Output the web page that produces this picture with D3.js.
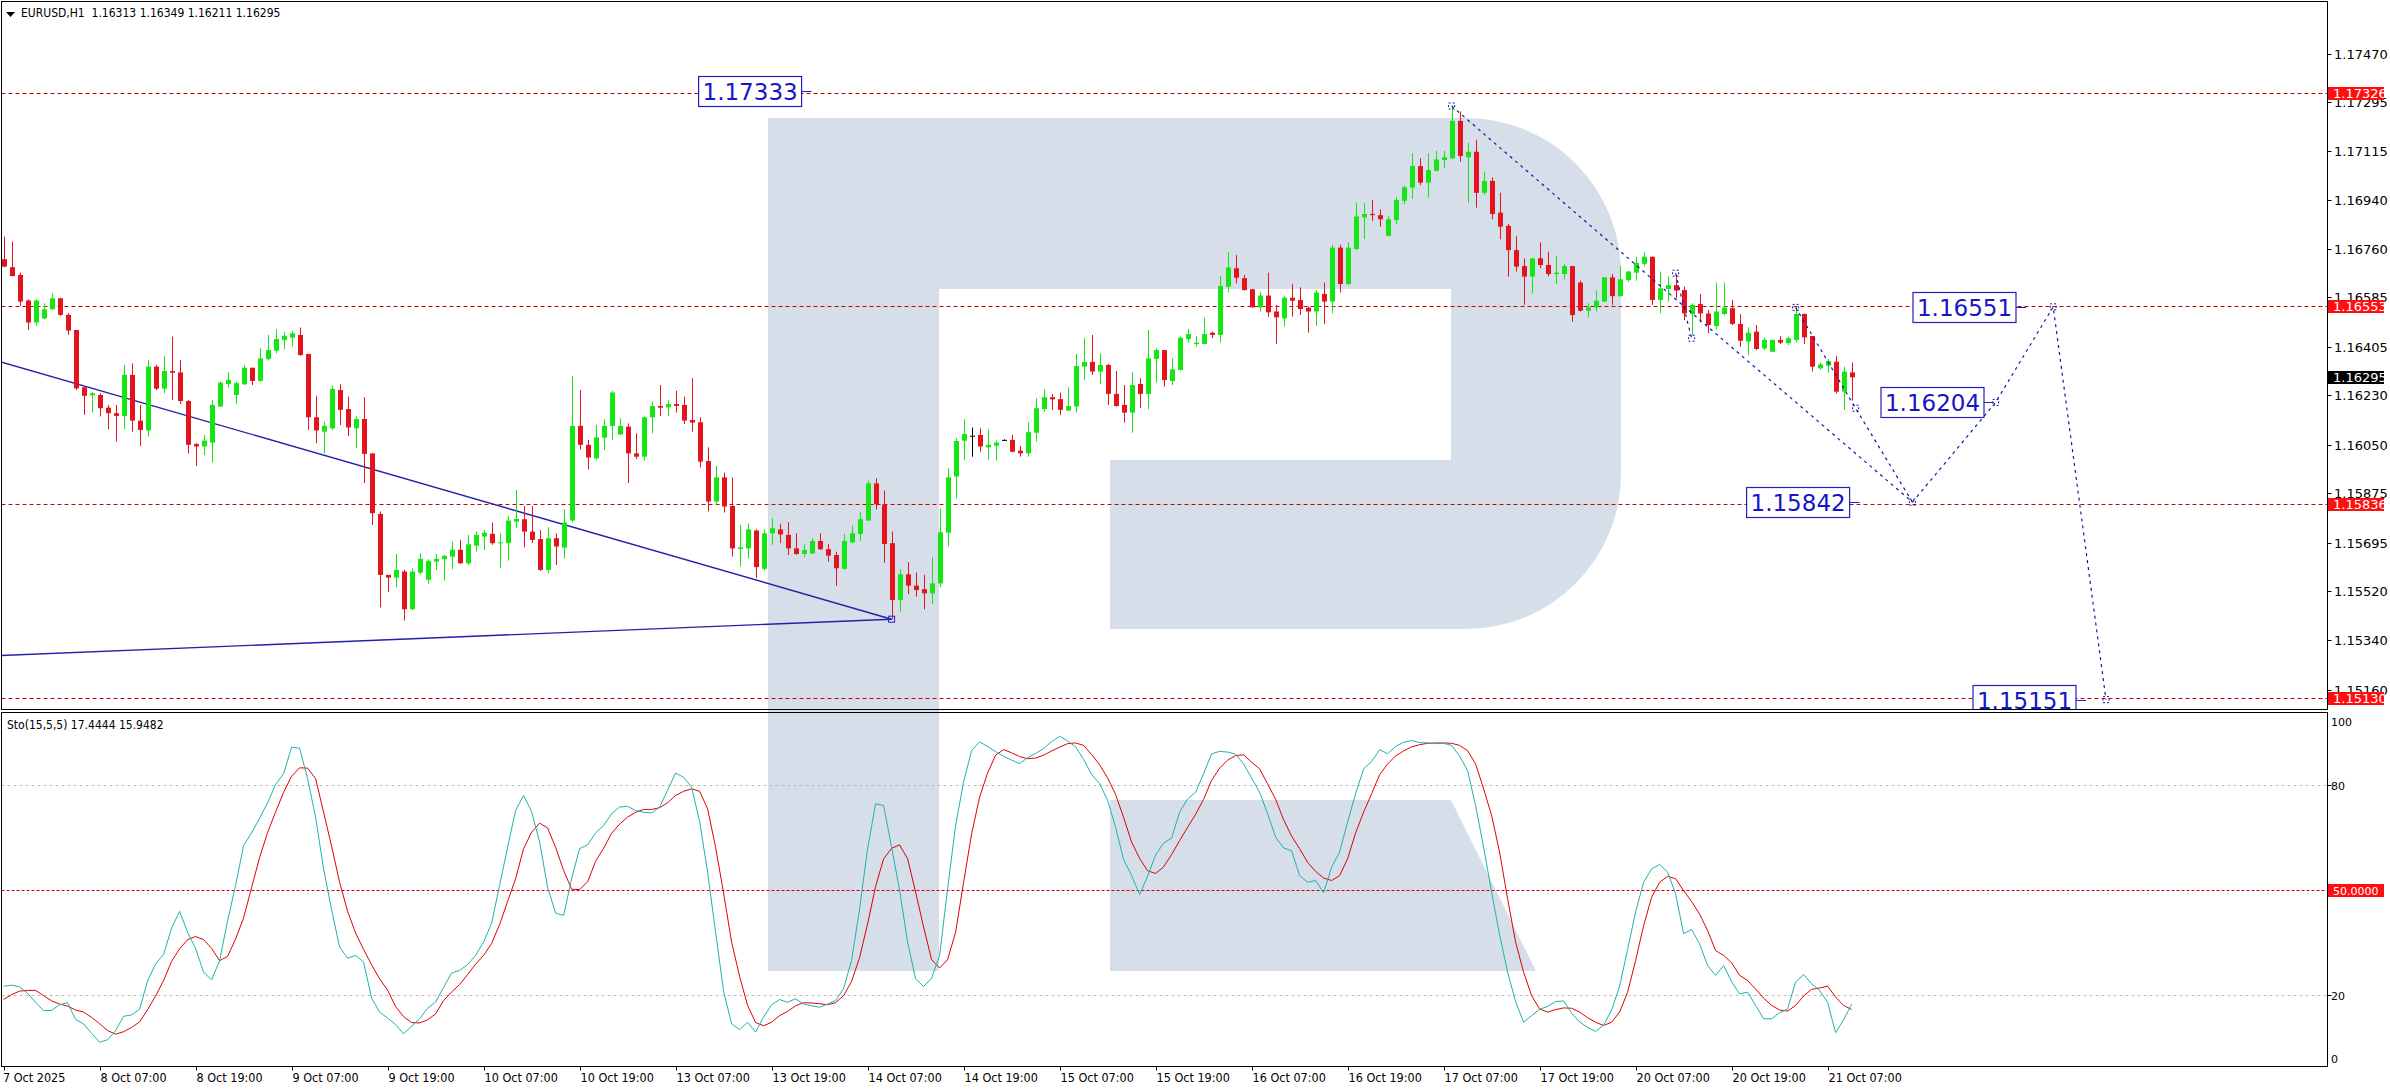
<!DOCTYPE html>
<html><head><meta charset="utf-8">
<script src="https://cdn.jsdelivr.net/npm/d3@7"></script>
<style>
html,body{margin:0;padding:0;background:#fff;overflow:hidden;}
svg{display:block;}
</style></head><body>
<svg id="c" width="2390" height="1090"></svg>
<script>
// ---------------- DATA ----------------
const symbolTitle = "EURUSD,H1";
const headerOHLC = ["1.16313","1.16349","1.16211","1.16295"];
const stochTitle = "Sto(15,5,5) 17.4444 15.9482";

const opens = [1.16724,1.16695,1.16667,1.16574,1.16494,1.16509,1.16542,1.16582,1.16522,1.16467,
1.16259,1.16230,1.16231,1.16185,1.16165,1.16155,1.16304,1.16138,1.16102,1.16334,
1.16254,1.16318,1.16313,1.16209,1.16053,1.16044,1.16058,1.16189,1.16271,1.16231,
1.16270,1.16330,1.16282,1.16361,1.16392,1.16431,1.16439,1.16449,1.16380,1.16150,
1.16098,1.16110,1.16249,1.16180,1.16110,1.16144,1.16019,1.15799,1.15578,1.15568,
1.15590,1.15453,1.15586,1.15560,1.15626,1.15635,1.15644,1.15669,1.15620,1.15684,
1.15717,1.15727,1.15693,1.15693,1.15771,1.15780,1.15735,1.15708,1.15596,1.15711,
1.15677,1.15775,1.16119,1.16050,1.16001,1.16076,1.16119,1.16088,1.16116,1.16019,
1.16007,1.16150,1.16191,1.16186,1.16198,1.16195,1.16140,1.16132,1.15991,1.15844,
1.15932,1.15828,1.15672,1.15674,1.15739,1.15600,1.15729,1.15743,1.15723,1.15674,
1.15654,1.15656,1.15701,1.15671,1.15650,1.15600,1.15696,1.15726,1.15775,1.15910,
1.15834,1.15693,1.15487,1.15580,1.15539,1.15526,1.15511,1.15547,1.15731,1.15935,
1.16065,1.16083,1.16086,1.16041,1.16047,1.16068,1.16068,1.16029,1.16019,1.16094,
1.16180,1.16223,1.16216,1.16174,1.16189,1.16334,1.16351,1.16316,1.16340,1.16235,
1.16195,1.16167,1.16271,1.16235,1.16362,1.16394,1.16282,1.16322,1.16434,1.16416,
1.16416,1.16457,1.16449,1.16624,1.16691,1.16655,1.16615,1.16549,1.16592,1.16534,
1.16509,1.16584,1.16576,1.16548,1.16534,1.16598,1.16570,1.16766,1.16634,1.16761,
1.16876,1.16888,1.16884,1.16808,1.16866,1.16936,1.16984,1.17062,1.17002,1.17045,
1.17084,1.17090,1.17226,1.17094,1.17114,1.16965,1.17008,1.16893,1.16845,1.16757,
1.16699,1.16661,1.16727,1.16703,1.16670,1.16670,1.16699,1.16639,1.16537,1.16549,
1.16570,1.16658,1.16590,1.16648,1.16675,1.16707,1.16733,1.16576,1.16616,1.16630,
1.16612,1.16525,1.16561,1.16527,1.16481,1.16525,1.16546,1.16489,1.16425,1.16461,
1.16400,1.16388,1.16431,1.16419,1.16431,1.16525,1.16445,1.16328,1.16337,1.16352,
1.16243,1.16313];
const highs = [1.16806,1.16788,1.16675,1.16578,1.16578,1.16564,1.16600,1.16584,1.16528,1.16467,
1.16261,1.16243,1.16237,1.16195,1.16195,1.16340,1.16346,1.16195,1.16358,1.16340,
1.16373,1.16443,1.16358,1.16213,1.16056,1.16086,1.16213,1.16280,1.16313,1.16280,
1.16340,1.16330,1.16401,1.16449,1.16470,1.16461,1.16463,1.16476,1.16380,1.16228,
1.16134,1.16265,1.16270,1.16225,1.16153,1.16223,1.16019,1.15808,1.15578,1.15654,
1.15596,1.15602,1.15656,1.15635,1.15654,1.15650,1.15699,1.15705,1.15723,1.15735,
1.15741,1.15768,1.15729,1.15792,1.15886,1.15828,1.15828,1.15741,1.15751,1.15729,
1.15816,1.16300,1.16249,1.16068,1.16122,1.16143,1.16246,1.16146,1.16128,1.16092,
1.16153,1.16207,1.16267,1.16213,1.16246,1.16225,1.16292,1.16150,1.16041,1.15973,
1.15949,1.15932,1.15759,1.15765,1.15743,1.15743,1.15783,1.15763,1.15769,1.15729,
1.15689,1.15711,1.15729,1.15690,1.15662,1.15726,1.15756,1.15807,1.15920,1.15929,
1.15884,1.15735,1.15598,1.15624,1.15587,1.15578,1.15642,1.15820,1.15965,1.16074,
1.16143,1.16113,1.16110,1.16106,1.16065,1.16070,1.16086,1.16046,1.16132,1.16219,
1.16252,1.16235,1.16240,1.16259,1.16380,1.16437,1.16449,1.16382,1.16344,1.16318,
1.16267,1.16313,1.16292,1.16467,1.16401,1.16394,1.16364,1.16443,1.16470,1.16445,
1.16512,1.16461,1.16663,1.16749,1.16739,1.16667,1.16615,1.16606,1.16675,1.16558,
1.16590,1.16634,1.16622,1.16552,1.16612,1.16639,1.16776,1.16776,1.16785,1.16929,
1.16927,1.16939,1.16905,1.16881,1.16949,1.16990,1.17108,1.17090,1.17108,1.17118,
1.17118,1.17275,1.17260,1.17147,1.17157,1.17042,1.17021,1.16965,1.16852,1.16808,
1.16727,1.16727,1.16785,1.16751,1.16736,1.16707,1.16699,1.16646,1.16564,1.16610,
1.16658,1.16670,1.16699,1.16682,1.16733,1.16749,1.16733,1.16679,1.16661,1.16667,
1.16624,1.16564,1.16598,1.16540,1.16639,1.16639,1.16576,1.16525,1.16477,1.16485,
1.16440,1.16431,1.16445,1.16443,1.16549,1.16527,1.16445,1.16349,1.16361,1.16373,
1.16334,1.16349];
const lows = [1.16695,1.16661,1.16554,1.16467,1.16482,1.16506,1.16540,1.16518,1.16449,1.16249,
1.16159,1.16167,1.16153,1.16107,1.16062,1.16107,1.16098,1.16046,1.16080,1.16249,
1.16237,1.16213,1.16198,1.16019,1.15973,1.16013,1.15986,1.16189,1.16258,1.16198,
1.16267,1.16267,1.16280,1.16356,1.16382,1.16397,1.16407,1.16373,1.16104,1.16056,
1.16019,1.16104,1.16122,1.16082,1.16038,1.15911,1.15759,1.15460,1.15515,1.15533,
1.15412,1.15451,1.15580,1.15547,1.15596,1.15557,1.15598,1.15618,1.15614,1.15662,
1.15668,1.15687,1.15602,1.15630,1.15747,1.15678,1.15693,1.15592,1.15584,1.15614,
1.15638,1.15768,1.16034,1.15961,1.15995,1.16031,1.16068,1.16086,1.15911,1.15998,
1.15993,1.16092,1.16155,1.16155,1.16167,1.16126,1.16098,1.15968,1.15808,1.15832,
1.15804,1.15644,1.15608,1.15638,1.15566,1.15593,1.15687,1.15693,1.15650,1.15650,
1.15642,1.15654,1.15668,1.15626,1.15538,1.15596,1.15693,1.15702,1.15775,1.15816,
1.15622,1.15417,1.15445,1.15508,1.15499,1.15453,1.15472,1.15533,1.15681,1.15856,
1.15994,1.16007,1.16025,1.15995,1.15993,1.16065,1.16023,1.16007,1.16007,1.16062,
1.16171,1.16177,1.16158,1.16174,1.16167,1.16285,1.16304,1.16271,1.16195,1.16189,
1.16131,1.16094,1.16183,1.16179,1.16276,1.16261,1.16267,1.16319,1.16421,1.16407,
1.16416,1.16437,1.16421,1.16603,1.16636,1.16610,1.16549,1.16533,1.16515,1.16416,
1.16479,1.16515,1.16521,1.16457,1.16482,1.16489,1.16527,1.16603,1.16630,1.16757,
1.16797,1.16863,1.16842,1.16808,1.16852,1.16924,1.16943,1.16993,1.16947,1.17042,
1.17054,1.17087,1.17078,1.16929,1.16911,1.16957,1.16869,1.16796,1.16660,1.16679,
1.16558,1.16600,1.16691,1.16661,1.16634,1.16651,1.16497,1.16534,1.16513,1.16534,
1.16570,1.16558,1.16588,1.16642,1.16646,1.16698,1.16558,1.16527,1.16570,1.16582,
1.16503,1.16449,1.16494,1.16455,1.16469,1.16521,1.16485,1.16406,1.16376,1.16394,
1.16394,1.16388,1.16416,1.16412,1.16421,1.16416,1.16316,1.16322,1.16312,1.16237,
1.16177,1.16211];
const closes = [1.16697,1.16663,1.16570,1.16494,1.16574,1.16542,1.16582,1.16522,1.16465,1.16255,
1.16228,1.16237,1.16183,1.16165,1.16155,1.16304,1.16138,1.16104,1.16334,1.16254,
1.16318,1.16312,1.16209,1.16050,1.16044,1.16065,1.16195,1.16276,1.16286,1.16274,
1.16330,1.16282,1.16364,1.16394,1.16434,1.16446,1.16455,1.16376,1.16150,1.16102,
1.16119,1.16253,1.16177,1.16113,1.16144,1.16017,1.15802,1.15578,1.15568,1.15596,
1.15453,1.15590,1.15636,1.15629,1.15636,1.15647,1.15669,1.15620,1.15689,1.15723,
1.15731,1.15693,1.15696,1.15775,1.15781,1.15735,1.15705,1.15596,1.15711,1.15681,
1.15768,1.16119,1.16050,1.16004,1.16077,1.16119,1.16240,1.16119,1.16019,1.16007,
1.16150,1.16191,1.16185,1.16198,1.16191,1.16138,1.16131,1.15989,1.15844,1.15932,
1.15826,1.15674,1.15678,1.15743,1.15606,1.15729,1.15747,1.15725,1.15674,1.15654,
1.15668,1.15701,1.15671,1.15648,1.15602,1.15701,1.15729,1.15780,1.15910,1.15834,
1.15690,1.15487,1.15580,1.15539,1.15523,1.15511,1.15547,1.15733,1.15932,1.16064,
1.16089,1.16083,1.16044,1.16050,1.16058,1.16068,1.16025,1.16019,1.16096,1.16183,
1.16223,1.16215,1.16177,1.16191,1.16336,1.16351,1.16316,1.16340,1.16235,1.16191,
1.16167,1.16267,1.16235,1.16364,1.16394,1.16285,1.16324,1.16439,1.16452,1.16421,
1.16452,1.16449,1.16627,1.16694,1.16657,1.16612,1.16549,1.16592,1.16531,1.16513,
1.16584,1.16573,1.16543,1.16534,1.16603,1.16570,1.16766,1.16634,1.16766,1.16879,
1.16888,1.16884,1.16869,1.16869,1.16939,1.16985,1.17062,1.17002,1.17048,1.17086,
1.17094,1.17226,1.17099,1.17114,1.16965,1.17008,1.16888,1.16842,1.16757,1.16697,
1.16661,1.16727,1.16703,1.16670,1.16675,1.16699,1.16521,1.16537,1.16549,1.16573,
1.16658,1.16590,1.16651,1.16679,1.16711,1.16733,1.16576,1.16618,1.16630,1.16610,
1.16527,1.16558,1.16527,1.16485,1.16534,1.16548,1.16489,1.16428,1.16457,1.16398,
1.16431,1.16431,1.16421,1.16437,1.16525,1.16440,1.16334,1.16342,1.16354,1.16243,
1.16316,1.16295];

const stochK = [22.6,22.9,22.4,20.6,18.0,15.6,15.7,17.3,17.9,13.1,
11.8,9.1,6.6,7.3,9.9,14.0,14.4,16.0,24.1,29.0,
31.7,39.2,44.0,38.0,33.4,26.6,24.4,29.9,41.3,51.4,
62.8,66.4,70.6,75.0,80.2,83.3,90.9,90.6,81.9,70.9,
56.1,44.5,33.8,30.6,31.4,29.5,19.2,15.2,13.5,11.6,
9.0,11.2,13.3,16.3,18.1,22.3,26.4,27.1,28.8,31.4,
35.2,40.6,51.4,62.3,72.8,77.1,72.5,63.8,50.9,43.5,
42.8,53.3,61.9,63.0,66.4,68.5,71.9,73.8,74.0,72.8,
72.3,72.1,73.8,78.6,83.5,82.3,79.5,69.7,55.2,38.0,
21.1,11.9,10.2,12.3,9.5,13.8,17.3,18.8,18.0,19.0,
17.5,17.0,16.6,17.5,18.5,21.9,30.0,44.7,61.9,74.7,
74.2,62.3,50.0,35.2,24.7,22.5,24.9,31.4,50.4,68.5,
81.0,89.9,92.4,91.1,89.6,88.3,87.2,86.2,87.9,89.1,
90.5,92.5,94.0,92.7,91.0,87.4,83.1,80.5,75.7,68.0,
58.8,54.2,48.8,54.0,60.1,63.5,64.9,72.3,76.1,78.0,
83.3,89.0,89.7,89.5,88.9,86.1,82.1,78.0,71.9,65.2,
62.1,61.3,54.2,52.3,52.8,49.3,56.6,60.9,69.5,77.6,
84.7,86.8,90.2,89.0,91.1,92.3,92.8,92.2,92.1,91.9,
92.0,91.4,88.4,84.2,74.2,62.3,49.5,37.3,26.6,18.2,
12.3,14.2,16.0,16.8,18.2,18.4,14.9,12.4,10.8,9.7,
11.4,15.8,22.6,33.1,43.8,52.3,56.1,57.4,55.2,49.0,
37.6,38.8,34.7,28.5,25.7,28.5,23.9,20.4,20.9,17.1,
13.3,13.3,15.0,16.1,23.8,25.9,23.3,21.4,18.0,9.3,
13.0,17.4444];
const stochD = [18.8,20.2,21.2,21.4,21.4,19.9,18.4,17.5,16.9,15.8,
15.2,13.7,11.9,9.9,8.9,9.6,10.8,12.4,15.9,19.8,
24.2,29.7,33.3,35.9,36.8,35.9,33.4,29.9,31.1,36.1,
42.1,50.8,59.4,66.5,72.4,78.0,82.6,85.0,84.9,81.9,
72.3,62.6,52.3,44.0,37.8,33.1,28.7,24.7,21.5,16.8,
13.9,12.2,12.1,13.0,14.7,18.5,20.9,23.1,25.9,28.9,
31.4,34.8,40.2,46.8,53.3,61.9,66.6,69.2,67.8,62.3,
55.7,50.3,50.2,52.4,58.3,62.0,66.3,68.9,70.9,72.3,
73.1,73.1,73.6,75.0,77.1,78.3,79.0,78.3,73.3,62.3,
49.2,35.2,25.4,17.1,12.2,11.3,12.3,14.2,15.4,17.0,
17.9,17.8,17.6,17.3,17.9,19.9,24.0,30.8,40.4,51.1,
59.0,62.0,63.0,59.0,49.5,39.5,30.2,27.8,30.2,38.0,
52.3,66.1,76.6,83.5,88.6,90.2,89.3,88.2,87.6,87.8,
88.6,89.8,90.9,91.9,92.1,91.4,88.8,85.9,82.1,77.4,
70.8,63.8,59.1,55.6,54.8,56.7,60.2,64.2,68.0,71.7,
76.0,81.4,84.9,87.2,88.5,88.7,86.6,84.7,80.4,76.0,
70.2,65.5,61.9,58.0,55.4,53.5,52.8,54.2,59.0,66.4,
72.3,77.6,83.0,86.1,88.4,89.8,91.0,91.6,92.0,92.1,
92.1,92.0,91.4,89.9,86.1,79.0,71.4,60.9,47.6,35.2,
26.6,19.9,16.1,15.2,15.9,16.4,16.3,15.2,13.6,12.3,
11.4,12.3,15.2,20.9,29.9,39.9,48.0,52.3,54.0,53.3,
49.9,46.8,43.2,38.5,32.8,31.4,29.3,25.7,24.2,21.8,
19.2,17.1,15.8,15.5,17.1,19.8,21.7,22.1,22.6,19.5,
17.1,15.9482];

const firstTimeLabel = "7 Oct 2025";
const timeLabels = ["8 Oct 07:00","8 Oct 19:00","9 Oct 07:00","9 Oct 19:00","10 Oct 07:00","10 Oct 19:00",
"13 Oct 07:00","13 Oct 19:00","14 Oct 07:00","14 Oct 19:00","15 Oct 07:00","15 Oct 19:00",
"16 Oct 07:00","16 Oct 19:00","17 Oct 07:00","17 Oct 19:00","20 Oct 07:00","20 Oct 19:00","21 Oct 07:00"];
const timeLabelBars = [12,24,36,48,60,72,84,96,108,120,132,144,156,168,180,192,204,216,228];

const priceTicks = [1.17470,1.17295,1.17115,1.16940,1.16760,1.16585,1.16405,1.16230,1.16050,1.15875,1.15695,1.15520,1.15340,1.15160];
const levelPrices = [1.17326,1.16553,1.15836,1.15130];
const lastPrice = 1.16295;
const stochTicks = [100,80,20,0];
const stochGrid = [80,20];
const stochMid = 50;

// trend lines: [bar, price] pairs
const trendUpper = [[-0.45,1.16352],[111,1.15417]];
const trendLower = [[-0.45,1.15285],[111,1.15417]];
// forecast (dotted) paths
const fcPeakLine = [[181,1.17280],[210,1.16554]];
const fcZig = [[209,1.16673],[210,1.16554],[211,1.16437]];
const fcLong = [[210,1.16554],[238.6,1.15842]];
const fcShort = [[224,1.16549],[231.5,1.16183],[238.6,1.15842]];
const fcFuture = [[238.6,1.15842],[249,1.16204],[256.2,1.16551],[262.8,1.15125]];
const fcMarkers = [[181,1.17280],[209,1.16673],[211,1.16437],[224,1.16549],[231.5,1.16183],[238.6,1.15842],[249,1.16204],[256.2,1.16551],[262.8,1.15125]];
const priceBoxes = [
  {text:"1.17333", bar:101, price:1.17333},
  {text:"1.16551", bar:252.8, price:1.16551},
  {text:"1.16204", bar:248.8, price:1.16204},
  {text:"1.15842", bar:232.0, price:1.15842},
  {text:"1.15151", bar:260.3, price:1.15125}
];

// ---------------- LAYOUT ----------------
const svg = d3.select("#c");
const PX0 = 1.5, PX1 = 2327.5;
const MY0 = 1.5, MY1 = 709.5;
const SY0 = 712.5, SY1 = 1066.5;

const x = d3.scaleLinear().domain([0, 231]).range([3.6, 1851.6]);
const y = d3.scaleLinear().domain([1.15160, 1.17470]).range([690.0, 53.7]);
const ys = d3.scaleLinear().domain([0, 100]).range([1065.3, 715.3]);

const BULL = "#14e614", BEAR = "#e3141d", DOJI = "#000000";
const FC = "#1414a8";
const FONT = "'DejaVu Sans Condensed','DejaVu Sans',sans-serif";
const FONT_W = "'DejaVu Sans',sans-serif";

svg.append("rect").attr("width",2390).attr("height",1090).attr("fill","#fff");

const defs = svg.append("defs");
defs.append("clipPath").attr("id","clipMain").append("rect")
  .attr("x",PX0).attr("y",MY0).attr("width",PX1-PX0).attr("height",MY1-MY0);
defs.append("clipPath").attr("id","clipSto").append("rect")
  .attr("x",PX0).attr("y",SY0).attr("width",PX1-PX0).attr("height",SY1-SY0);

// watermark logo (decoration)
svg.append("path")
  .attr("d","M768,118 H1466 A155,155 0 0 1 1621,273 V474 A155,155 0 0 1 1466,629 H1110 V460 H1451 V289 H939 V971 H768 Z M1110,800 H1451 L1536,971 H1110 Z")
  .attr("fill","#d5dee9");

// ---------- main panel ----------
const gm = svg.append("g").attr("clip-path","url(#clipMain)");

gm.selectAll("line.lvl").data(levelPrices).join("line")
  .attr("x1",PX0).attr("x2",PX1)
  .attr("y1",d=>Math.round(y(d))+0.5).attr("y2",d=>Math.round(y(d))+0.5)
  .attr("stroke","#c80000").attr("stroke-width",1).attr("stroke-dasharray","4,3");

const lineGen = d3.line().x(d=>x(d[0])).y(d=>y(d[1]));
[trendUpper, trendLower].forEach(t=>{
  gm.append("path").attr("d",lineGen(t)).attr("fill","none")
    .attr("stroke","#2222a8").attr("stroke-width",1.4);
});
gm.append("rect").attr("x",x(111)-3).attr("y",y(1.15417)-3).attr("width",6).attr("height",6)
  .attr("fill","none").attr("stroke","#2020c0").attr("stroke-width",1);

// candles
const idx = d3.range(opens.length);
const cg = gm.append("g");
idx.forEach(i=>{
  const cx = Math.round(x(i)) + 0.5;
  const o = opens[i], c = closes[i];
  const col = o === c ? DOJI : (c > o ? BULL : BEAR);
  cg.append("line").attr("x1",cx).attr("x2",cx)
    .attr("y1",y(highs[i])).attr("y2",y(lows[i]))
    .attr("stroke",col).attr("stroke-width",1);
  const top = Math.min(y(o),y(c)), h = Math.max(1, Math.abs(y(o)-y(c)));
  cg.append("rect").attr("x",cx-2.5).attr("y",top).attr("width",5).attr("height",h)
    .attr("fill",col);
});

// dotted forecast lines
[fcPeakLine, fcZig, fcLong, fcShort, fcFuture].forEach(t=>{
  gm.append("path").attr("d",lineGen(t)).attr("fill","none")
    .attr("stroke",FC).attr("stroke-width",1.2).attr("stroke-dasharray","3,4");
});
gm.selectAll("rect.mk").data(fcMarkers).join("rect")
  .attr("x",d=>x(d[0])-3).attr("y",d=>y(d[1])-3).attr("width",6).attr("height",6)
  .attr("fill","none").attr("stroke",FC).attr("stroke-width",1).attr("stroke-dasharray","2,2");

// price boxes
priceBoxes.forEach(b=>{
  const ax = x(b.bar), ay = Math.round(y(b.price))+0.5;
  const bw = 103, bh = 30;
  gm.append("line").attr("x1",ax-10).attr("x2",ax).attr("y1",ay).attr("y2",ay)
    .attr("stroke","#2020c0").attr("stroke-width",1);
  gm.append("rect").attr("x",ax-10-bw).attr("y",ay-bh/2).attr("width",bw).attr("height",bh)
    .attr("fill","#fff").attr("stroke","#2020c0").attr("stroke-width",1.2);
  gm.append("text").attr("x",ax-10-bw/2).attr("y",ay+8.5).attr("text-anchor","middle")
    .attr("font-family",FONT_W).attr("font-size",23).attr("fill","#1515c8").text(b.text);
});

// header
svg.append("path").attr("d","M6,12 L15,12 L10.5,17 Z").attr("fill","#000");
svg.append("text").attr("x",21).attr("y",17).attr("font-family",FONT).attr("font-size",12)
  .attr("fill","#000").attr("xml:space","preserve")
  .text(symbolTitle + "  " + headerOHLC.join(" "));

// ---------- stochastic panel ----------
const gs = svg.append("g").attr("clip-path","url(#clipSto)");
gs.selectAll("line.sg").data(stochGrid).join("line")
  .attr("x1",PX0).attr("x2",PX1)
  .attr("y1",d=>Math.round(ys(d))+0.5).attr("y2",d=>Math.round(ys(d))+0.5)
  .attr("stroke","#bdbdbd").attr("stroke-width",1).attr("stroke-dasharray","3,3");
gs.append("line").attr("x1",PX0).attr("x2",PX1)
  .attr("y1",Math.round(ys(stochMid))+0.5).attr("y2",Math.round(ys(stochMid))+0.5)
  .attr("stroke","#c80000").attr("stroke-width",1).attr("stroke-dasharray","3,2");
const sline = d3.line().x((d,i)=>x(i)).y(d=>ys(d));
gs.append("path").attr("d",sline(stochD)).attr("fill","none").attr("stroke","#e00000").attr("stroke-width",1);
gs.append("path").attr("d",sline(stochK)).attr("fill","none").attr("stroke","#20b2aa").attr("stroke-width",1);
svg.append("text").attr("x",7).attr("y",729).attr("font-family",FONT).attr("font-size",12)
  .attr("fill","#000").text(stochTitle);

// ---------- frames ----------
svg.append("rect").attr("x",PX0).attr("y",MY0).attr("width",PX1-PX0).attr("height",MY1-MY0)
  .attr("fill","none").attr("stroke","#000");
svg.append("rect").attr("x",PX0).attr("y",SY0).attr("width",PX1-PX0).attr("height",SY1-SY0)
  .attr("fill","none").attr("stroke","#000");

// ---------- price axis ----------
const ax = svg.append("g");
priceTicks.forEach(p=>{
  const yy = Math.round(y(p))+0.5;
  ax.append("line").attr("x1",PX1).attr("x2",PX1+4).attr("y1",yy).attr("y2",yy).attr("stroke","#000");
  ax.append("text").attr("x",2334).attr("y",yy+4.7).attr("font-family",FONT_W).attr("font-size",13)
    .attr("fill","#000").text(p.toFixed(5));
});
function tag(txt, bg, yy){
  ax.append("rect").attr("x",2328).attr("y",yy-6.5).attr("width",56).attr("height",13).attr("fill",bg);
  ax.append("text").attr("x",2333).attr("y",yy+4.7).attr("font-family",FONT_W).attr("font-size",13)
    .attr("fill","#fff").text(txt);
}
levelPrices.forEach(p=>tag(p.toFixed(5), "#ff1010", Math.round(y(p))+0.5));
tag(lastPrice.toFixed(5), "#000", Math.round(y(lastPrice))+0.5);

// stochastic axis
stochTicks.forEach(v=>{
  const yy = Math.round(ys(v))+0.5;
  if (v===80 || v===20) ax.append("line").attr("x1",PX1).attr("x2",PX1+4).attr("y1",yy).attr("y2",yy).attr("stroke","#000");
  const ty = Math.max(722, Math.min(1059, yy));
  ax.append("text").attr("x",2331).attr("y",ty+4).attr("font-family",FONT_W).attr("font-size",11)
    .attr("fill","#000").text(v);
});
{
  const yy = Math.round(ys(stochMid))+0.5;
  ax.append("rect").attr("x",2328).attr("y",yy-6.5).attr("width",56).attr("height",13).attr("fill","#ff1010");
  ax.append("text").attr("x",2333).attr("y",yy+4).attr("font-family",FONT_W).attr("font-size",11)
    .attr("fill","#fff").text(stochMid.toFixed(4));
}

// ---------- time axis ----------
ax.append("line").attr("x1",4.5).attr("x2",4.5).attr("y1",SY1).attr("y2",SY1+4).attr("stroke","#000");
ax.append("text").attr("x",3).attr("y",1082).attr("font-family",FONT).attr("font-size",12.5).text(firstTimeLabel);
timeLabels.forEach((t,k)=>{
  const xx = Math.round(x(timeLabelBars[k]))+0.5;
  ax.append("line").attr("x1",xx).attr("x2",xx).attr("y1",SY1).attr("y2",SY1+4).attr("stroke","#000");
  ax.append("text").attr("x",xx).attr("y",1082).attr("font-family",FONT).attr("font-size",12.5).text(t);
});
</script>
</body></html>
